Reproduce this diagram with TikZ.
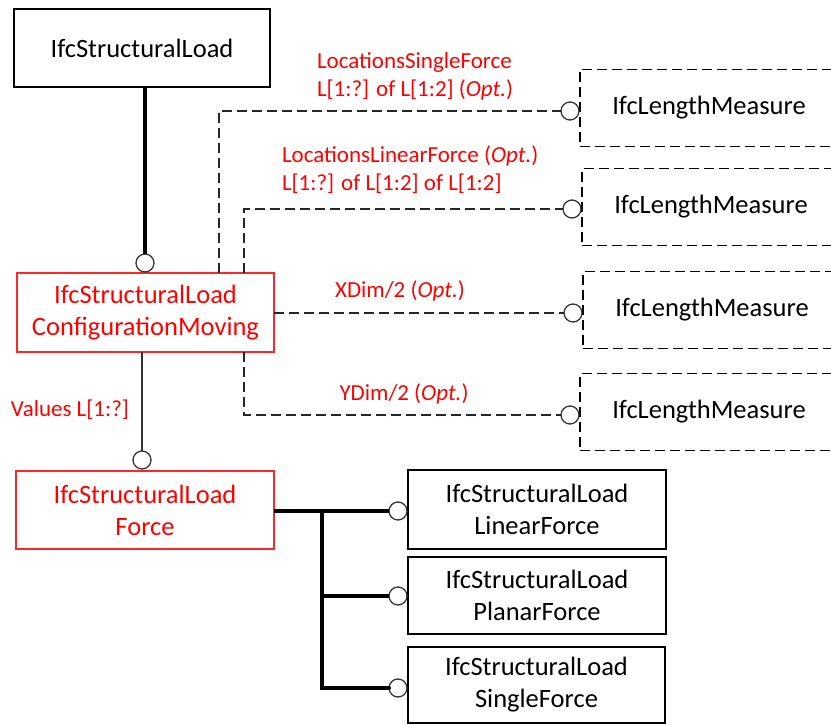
\documentclass[tikz,border=0pt]{standalone}
\usepackage{fontspec}
\setmainfont{Carlito}
\begin{document}
\begin{tikzpicture}[x=1pt,y=-1pt,
  every node/.style={inner sep=0pt, outer sep=0pt},
  entity/.style={draw=black, line width=1.3pt, fill=white, align=center,
    font=\fontsize{26.5}{32}\selectfont},
  selected/.style={entity, draw=red!85!white, text=red},
  optional/.style={entity, dash pattern=on 10pt off 5pt,
    minimum width=260pt, minimum height=77pt},
  knob/.style={circle, draw=black!80, line width=1.3pt, fill=white,
    minimum size=18pt},
  thick link/.style={line width=4pt},
  thin link/.style={line width=1.5pt, black!80},
  opt link/.style={line width=1.3pt, black!85, dash pattern=on 10pt off 5pt},
  role/.style={text=red, font=\fontsize{23}{28}\selectfont}]
  \clip (0,0) rectangle (831,725);
  \useasboundingbox (0,0) rectangle (831,725);

  % entities
  \node[entity, minimum width=256pt, minimum height=78pt] (top) at (142,48) {IfcStructuralLoad};
  \node[selected, minimum width=257pt, minimum height=79pt] (cfg) at (145.5,312.5)
    {IfcStructuralLoad\\ConfigurationMoving};
  \node[selected, minimum width=258pt, minimum height=78pt] (force) at (145,510)
    {IfcStructuralLoad\\Force};
  \node[entity, minimum width=258pt, minimum height=79pt] (lin) at (537,509.5)
    {IfcStructuralLoad\\LinearForce};
  \node[entity, minimum width=258pt, minimum height=77pt] (pla) at (537,595.5)
    {IfcStructuralLoad\\PlanarForce};
  \node[entity, minimum width=257pt, minimum height=76pt] (sin) at (536.5,685)
    {IfcStructuralLoad\\SingleForce};

  \node[optional, anchor=west] (m1) at (580,108) {\hspace*{-2pt}IfcLengthMeasure};
  \node[optional, anchor=west] (m2) at (582,207) {\hspace*{-2pt}IfcLengthMeasure};
  \node[optional, anchor=west] (m3) at (583,310) {\hspace*{-2pt}IfcLengthMeasure};
  \node[optional, anchor=west] (m4) at (580,412) {\hspace*{-2pt}IfcLengthMeasure};

  % relationship ends
  \node[knob] (o0) at (145,263) {};
  \node[knob] (o1) at (142,460) {};
  \node[knob] (r1) at (570,111) {};
  \node[knob] (r2) at (572,209) {};
  \node[knob] (r3) at (573,313) {};
  \node[knob] (r4) at (570,415) {};
  \node[knob] (b1) at (398,511) {};
  \node[knob] (b2) at (398,596) {};
  \node[knob] (b3) at (398,688) {};

  % supertype link
  \draw[thick link] (top.south -| o0) -- (o0.north);
  % values
  \draw[thin link] (cfg.south -| o1) -- (o1.north);
  % subtype tree
  \coordinate (fork) at (322,511);
  \draw[thick link] (force.east |- b1) -- (b1.west);
  \draw[thick link, line cap=round] (fork) |- (b3.west);
  \draw[thick link] (fork |- b2) -- (b2.west);

  % optional attributes
  \coordinate (k1) at (219,273);
  \coordinate (k2) at (244,273);
  \coordinate (k4) at (244,352);
  \draw[opt link] (k1) |- (r1.west);
  \draw[opt link] (k2) |- (r2.west);
  \draw[opt link] (cfg.east |- r3) -- (r3.west);
  \draw[opt link] (k4) |- (r4.west);

  % role labels
  \node[role, anchor=west, align=left] (l1) at (317,76)
    {LocationsSingleForce\\L[1:?] of L[1:2] (\textit{Opt.})};
  \node[role, anchor=west, align=left] (l2) at (282,170)
    {LocationsLinearForce (\textit{Opt.})\\L[1:?] of L[1:2] of L[1:2]};
  \node[role] (l3) at (400,291) {XDim/2 (\textit{Opt.})};
  \node[role] (l4) at (404,394) {YDim/2 (\textit{Opt.})};
  \node[role] (l5) at (70,410) {Values L[1:?]};
\end{tikzpicture}
\end{document}
